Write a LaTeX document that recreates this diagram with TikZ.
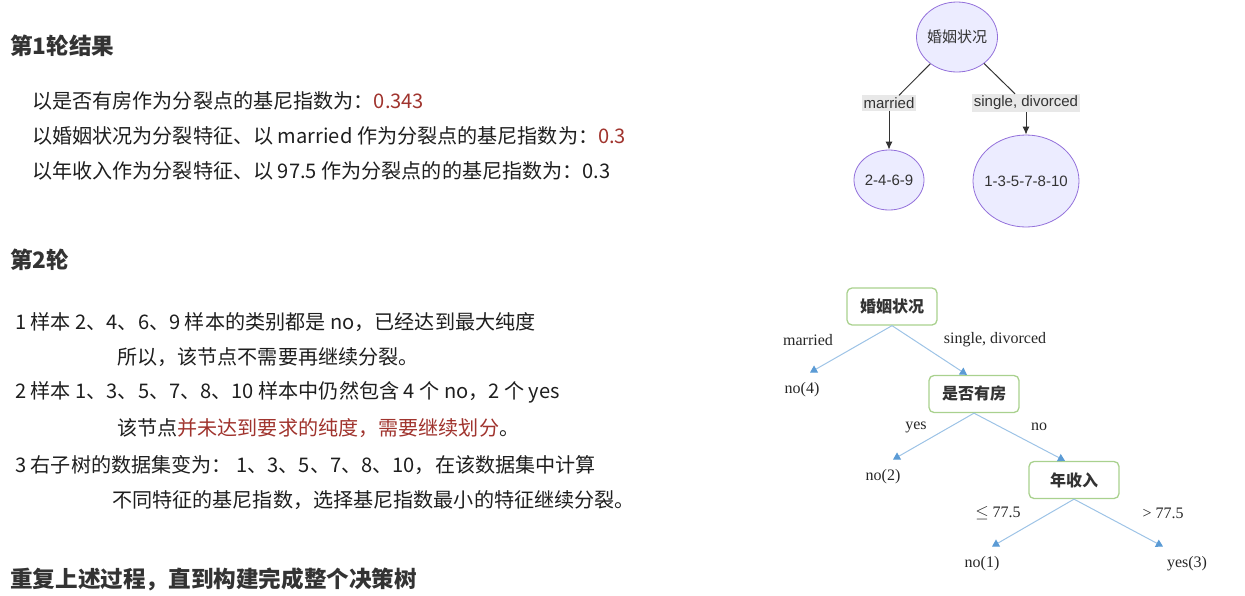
\documentclass[tikz,border=0pt]{standalone}
\usepackage{fontspec}
\setmainfont{Noto Sans CJK SC}
\newfontfamily\serifl{Liberation Serif}
\newfontfamily\sansl{Liberation Sans}
\usetikzlibrary{arrows.meta,shapes.geometric}
\definecolor{txt}{RGB}{30,30,30}
\definecolor{head}{RGB}{51,51,51}
\definecolor{redt}{RGB}{160,52,46}
\definecolor{mfill}{RGB}{236,236,255}
\definecolor{mline}{RGB}{147,112,219}
\definecolor{lblbg}{RGB}{232,232,232}
\definecolor{gbox}{RGB}{169,209,142}
\definecolor{bline}{RGB}{157,195,230}
\definecolor{btip}{RGB}{91,155,213}
\tikzset{
  heading/.style={anchor=west,inner sep=0,font=\fontsize{22.6}{26}\selectfont\bfseries,text=head},
  body/.style={anchor=west,inner sep=0,font=\fontsize{20.1}{24}\selectfont,text=txt},
  mnode/.style={ellipse,draw=mline,fill=mfill,line width=0.8pt,font=\fontsize{15}{17}\selectfont\sansl,text=black!80,inner sep=0},
  mlabel/.style={fill=lblbg,inner sep=2pt,font=\fontsize{15}{17}\selectfont\sansl,text=black!80},
  medge/.style={draw=black!80,line width=1pt},
  marrow/.style={medge,-{Latex[length=8pt,width=7pt]}},
  gnode/.style={draw=gbox,line width=1.3pt,rounded corners=5pt,minimum width=90pt,minimum height=37pt,font=\fontsize{16}{18}\selectfont\bfseries,text=black!80,inner sep=0},
  leaf/.style={font=\fontsize{16}{18}\selectfont\serifl,text=black!85,inner sep=1pt},
  blbl/.style={font=\fontsize{16}{18}\selectfont\serifl,text=black!85,inner sep=0},
  barrow/.style={draw=bline,line width=1pt,-{Triangle[length=7pt,width=8pt,fill=btip,color=btip]}},
}
\begin{document}
\begin{tikzpicture}[x=1pt,y=-1pt]
\useasboundingbox (0,0) rectangle (1245,595);
% left text
\node[heading] (h1) at (10,46) {第1轮结果};
\node[body] (l1) at (32,101) {以是否有房作为分裂点的基尼指数为：\textcolor{redt}{0.343}};
\node[body] (l2) at (32,136) {以婚姻状况为分裂特征、以 married 作为分裂点的基尼指数为：\textcolor{redt}{0.3}};
\node[body] (l3) at (32,171) {以年收入作为分裂特征、以 97.5 作为分裂点的的基尼指数为：0.3};
\node[heading] (h2) at (10,260) {第2轮};
\node[body] (a1) at (15,322) {1 样本 2、4、6、9 样本的类别都是 no，已经达到最大纯度};
\node[body] (a2) at (117,357) {所以，该节点不需要再继续分裂。};
\node[body] (a3) at (15,392) {2 样本 1、3、5、7、8、10 样本中仍然包含 4 个 no，2 个 yes};
\node[body] (a4) at (117,428) {该节点\textcolor{redt}{并未达到要求的纯度，需要继续划分}。};
\node[body] (a5) at (15,465) {3 右子树的数据集变为： 1、3、5、7、8、10，在该数据集中计算};
\node[body] (a6) at (112,500) {不同特征的基尼指数，选择基尼指数最小的特征继续分裂。};
\node[heading] (h3) at (10,579) {重复上述过程，直到构建完成整个决策树};
% top-right tree
\node[mnode,minimum width=81pt,minimum height=70pt,font=\fontsize{15}{17}\selectfont\normalfont] (r) at (957,37) {\makebox[40pt]{婚姻状况}};
\node[mnode,minimum width=70pt,minimum height=60pt] (c1) at (889,180) {\makebox[36pt]{2-4-6-9}};
\node[mnode,minimum width=106pt,minimum height=92pt] (c2) at (1026,181) {\makebox[50pt]{1-3-5-7-8-10}};
\node[mlabel] (lm) at (889,103) {married};
\node[mlabel] (ls) at (1026,103) {single, divorced};
\draw[medge] (r) -- ([xshift=10pt]lm.north);
\draw[medge] (r) -- ([xshift=-11pt]ls.north);
\draw[marrow] (lm.south) -- (c1.north);
\draw[marrow] (ls.south) -- (c2.north);
% bottom-right tree
\node[gnode] (g1) at (892,306.5) {婚姻状况};
\node[gnode] (g2) at (974,394) {是否有房};
\node[gnode] (g3) at (1074,480) {年收入};
\node[leaf] (n4) at (802,390) {no(4)};
\node[leaf] (n2) at (883,477) {no(2)};
\node[leaf] (n1) at (982,564) {no(1)};
\node[leaf] (y3) at (1187,564) {yes(3)};
\node[blbl] (bm) at (808,340) {married};
\node[blbl] (bs) at (995,340) {single, divorced};
\node[blbl] (by) at (916,427) {yes};
\node[blbl] (bn) at (1039,427) {no};
\node[blbl] (ble) at (998,513) {$\leq$ 77.5};
\node[blbl] (bgt) at (1163,513) {> 77.5};
\draw[barrow] (g1.south) -- ([xshift=8pt,yshift=9pt]n4.north);
\draw[barrow] (g1.south) -- ([xshift=-7pt]g2.north);
\draw[barrow] (g2.south) -- ([xshift=10pt,yshift=9pt]n2.north);
\draw[barrow] (g2.south) -- ([xshift=-9pt]g3.north);
\draw[barrow] (g3.south) -- ([xshift=10pt,yshift=9pt]n1.north);
\draw[barrow] (g3.south) -- ([xshift=-24pt,yshift=9pt]y3.north);
\end{tikzpicture}
\end{document}
